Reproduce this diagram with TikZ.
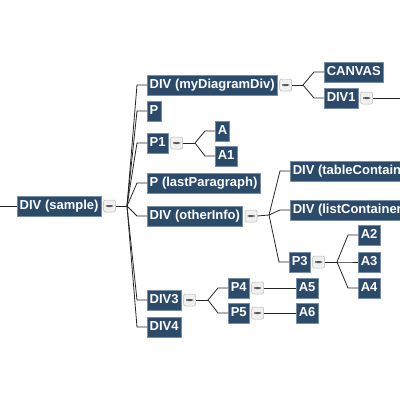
\documentclass[tikz,border=0pt]{standalone}
\usepackage{fontspec}
\setmainfont{Liberation Sans}
\definecolor{nodefill}{RGB}{44,74,106}
\definecolor{nodeedge}{RGB}{120,140,165}
\tikzset{
 tn/.style={anchor=west, fill=nodefill, draw=nodeedge, line width=0.5pt, text=white,
   font=\bfseries\fontsize{13}{13}\selectfont, minimum height=20pt, inner xsep=2.5pt,
   inner ysep=0pt, text height=9.5pt, text depth=3pt},
 btn/.style={anchor=west, fill=gray!12, draw=gray!55, rounded corners=2pt,
   minimum width=12pt, minimum height=12pt, inner sep=0pt, line width=0.5pt,
   path picture={\fill[black!65] ([xshift=-3.5pt,yshift=-1pt]path picture bounding box.center)
     rectangle ([xshift=3.5pt,yshift=1pt]path picture bounding box.center);}},
 ln/.style={draw=black!85, line width=0.8pt},
}
\begin{document}
\begin{tikzpicture}[x=1pt,y=-1pt]
\useasboundingbox (0,0) rectangle (400,400);
\clip (0,0) rectangle (400,400);
\fill[white] (0,0) rectangle (400,400);
% nodes
\node[tn] (root) at (17,206) {DIV (sample)};
\node[tn] (n1) at (147,85) {DIV (myDiagramDiv)};
\node[tn] (n2) at (147,111) {P};
\node[tn] (n3) at (147,143) {P1};
\node[tn] (n4) at (147,183) {P (lastParagraph)};
\node[tn] (n5) at (147,216) {DIV (otherInfo)};
\node[tn] (n6) at (147,300) {DIV3};
\node[tn] (n7) at (147,327) {DIV4};
\node[tn] (c1) at (324,72) {CANVAS};
\node[tn] (c2) at (324,98) {DIV1};
\node[tn] (a) at (215,131) {A};
\node[tn] (a1) at (215,156) {A1};
\node[tn] (t) at (290,171) {DIV (tableContainer)};
\node[tn] (l) at (290,210) {DIV (listContainer)};
\node[tn] (p3) at (289,262) {P3};
\node[tn] (a2) at (358,235) {A2};
\node[tn] (a3) at (358,262) {A3};
\node[tn] (a4) at (358,288) {A4};
\node[tn] (p4) at (228,288) {P4};
\node[tn] (p5) at (228,313) {P5};
\node[tn] (a5) at (296,288) {A5};
\node[tn] (a6) at (296,313) {A6};
% buttons
\foreach \n in {root,n1,n3,n5,n6,c2,p3,p4,p5}
  \node[btn] (b\n) at ([xshift=2pt]\n.east) {};
% junctions
\coordinate (jr) at (127,206);
\coordinate (j1) at (303,85);
\coordinate (j3) at (195,143);
\coordinate (j5) at (269,215);
\coordinate (jp3) at (337,262);
\coordinate (j6) at (208,300);
\coordinate (in) at (0,206);
\coordinate (out) at (400,98);
% edges
\draw[ln] (in) -- (root.west);
\draw[ln] (broot.east) -- (jr);
\foreach \c in {n1,n2,n3,n4,n5,n6,n7}
  \draw[ln] (jr) -- ([xshift=-10pt]\c.west) -- (\c.west);
\draw[ln] (bn1.east) -- (j1);
\foreach \c in {c1,c2}
  \draw[ln] (j1) -- ([xshift=-10pt]\c.west) -- (\c.west);
\draw[ln] (bc2.east) -- (out);
\draw[ln] (bn3.east) -- (j3);
\foreach \c in {a,a1}
  \draw[ln] (j3) -- ([xshift=-10pt]\c.west) -- (\c.west);
\draw[ln] (bn5.east) -- (j5);
\foreach \c in {t,l,p3}
  \draw[ln] (j5) -- ([xshift=-10pt]\c.west) -- (\c.west);
\draw[ln] (bp3.east) -- (jp3);
\foreach \c in {a2,a3,a4}
  \draw[ln] (jp3) -- ([xshift=-10pt]\c.west) -- (\c.west);
\draw[ln] (bn6.east) -- (j6);
\foreach \c in {p4,p5}
  \draw[ln] (j6) -- ([xshift=-10pt]\c.west) -- (\c.west);
\draw[ln] (bp4.east) -- (a5.west);
\draw[ln] (bp5.east) -- (a6.west);
\end{tikzpicture}
\end{document}
